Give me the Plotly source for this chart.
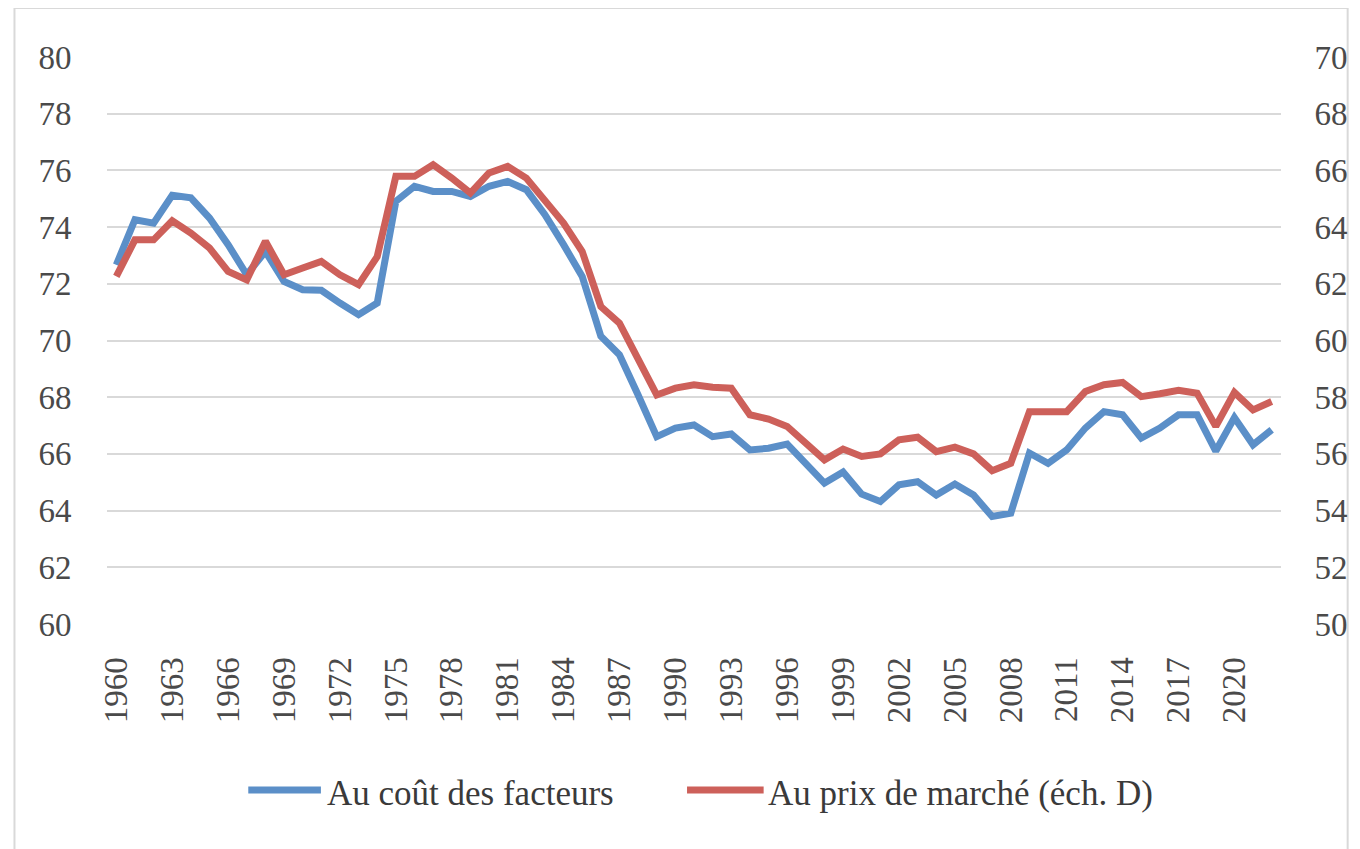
import plotly.graph_objects as go

years = list(range(1960, 2023))
cout_facteurs = [72.67, 74.26, 74.14, 75.12, 75.03, 74.32, 73.38, 72.32, 73.14, 72.08,
                 71.79, 71.77, 71.32, 70.91, 71.32, 74.91, 75.44, 75.26, 75.26, 75.08,
                 75.44, 75.61, 75.32, 74.44, 73.38, 72.26, 70.15, 69.50, 68.08, 66.61,
                 66.91, 67.02, 66.61, 66.70, 66.14, 66.20, 66.35, 65.67, 64.97, 65.36,
                 64.58, 64.32, 64.91, 65.02, 64.55, 64.94, 64.55, 63.79, 63.91, 66.03,
                 65.67, 66.14, 66.91, 67.49, 67.38, 66.56, 66.91, 67.38, 67.38, 66.10,
                 67.28, 66.32, 66.85]
prix_marche = [62.26, 63.55, 63.55, 64.22, 63.79, 63.26, 62.44, 62.14, 63.50, 62.32,
               62.56, 62.79, 62.32, 61.97, 62.96, 65.79, 65.79, 66.20, 65.73, 65.20,
               65.91, 66.14, 65.73, 64.97, 64.14, 63.14, 61.20, 60.61, 59.38, 58.08,
               58.32, 58.44, 58.35, 58.32, 57.38, 57.23, 56.97, 56.38, 55.79, 56.17,
               55.91, 56.00, 56.50, 56.59, 56.08, 56.24, 56.00, 55.41, 55.67, 57.49,
               57.49, 57.49, 58.20, 58.44, 58.52, 58.02, 58.12, 58.24, 58.14, 56.97,
               58.17, 57.55, 57.85]
tick_years = list(range(1960, 2021, 3))
left_ticks = list(range(60, 81, 2))
right_ticks = list(range(50, 71, 2))
names = ["Au coût des facteurs", "Au prix de marché (éch. D)"]

BLUE = "#5B8FC8"
RED = "#CD605A"
FONT = "Liberation Serif"
TXT = "#4A4A4A"

fig = go.Figure()
fig.add_trace(go.Scatter(x=years, y=cout_facteurs, mode="lines", name=names[0],
                         line=dict(color=BLUE, width=7), yaxis="y"))
fig.add_trace(go.Scatter(x=years, y=prix_marche, mode="lines", name=names[1],
                         line=dict(color=RED, width=7), yaxis="y2"))

# page is rendered with an 8px body margin: figure origin at (8, 8)
OFF = 8
W, H = 1360 - OFF, 849 - OFF
L = 107 - OFF
R = W - (1287 - OFF)
T = 57 - OFF
B = H - (624 - OFF)
pw = W - L - R
ph = H - T - B

def px_x(p):
    return (p - OFF - L) / pw

def px_y(p):
    return (H - B - (p - OFF)) / ph

fig.update_layout(
    width=W, height=H,
    margin=dict(l=L, r=R, t=T, b=B),
    paper_bgcolor="white", plot_bgcolor="white",
    showlegend=False,
    font=dict(family=FONT, color=TXT, size=33),
    xaxis=dict(range=[1959.5, 2022.5], tickmode="array", tickvals=tick_years,
               ticktext=[str(y) for y in tick_years], tickangle=-90,
               showgrid=False, zeroline=False, showline=False,
               ticks="outside", ticklen=19, tickcolor="rgba(0,0,0,0)",
               tickfont=dict(family=FONT, size=33, color=TXT)),
    yaxis=dict(range=[60, 80], tickvals=left_ticks, showgrid=True,
               gridcolor="#D9D9D9", gridwidth=2, zeroline=False, showline=False,
               ticks="outside", ticklen=28, tickcolor="rgba(0,0,0,0)",
               tickfont=dict(family=FONT, size=33, color=TXT)),
    yaxis2=dict(range=[50, 70], tickvals=right_ticks, overlaying="y", side="right",
                showgrid=False, zeroline=False, showline=False,
                ticks="outside", ticklen=26, tickcolor="rgba(0,0,0,0)",
                tickfont=dict(family=FONT, size=33, color=TXT)),
)

shapes = [
    dict(type="rect", xref="paper", yref="paper",
         x0=px_x(14), x1=px_x(1354), y0=px_y(880), y1=px_y(8),
         line=dict(color="#D9D9D9", width=2), fillcolor="rgba(0,0,0,0)", layer="below"),
    dict(type="line", xref="paper", yref="paper",
         x0=px_x(249), x1=px_x(322), y0=px_y(790), y1=px_y(790),
         line=dict(color=BLUE, width=7)),
    dict(type="line", xref="paper", yref="paper",
         x0=px_x(690), x1=px_x(767), y0=px_y(790), y1=px_y(790),
         line=dict(color=RED, width=7)),
]
annotations = [
    dict(text=names[0], xref="paper", yref="paper", x=px_x(326), y=px_y(793),
         xanchor="left", yanchor="middle", showarrow=False,
         font=dict(family=FONT, size=35, color="#3A3A3A")),
    dict(text=names[1], xref="paper", yref="paper", x=px_x(769), y=px_y(793),
         xanchor="left", yanchor="middle", showarrow=False,
         font=dict(family=FONT, size=35, color="#3A3A3A")),
]
fig.update_layout(shapes=shapes, annotations=annotations)

fig.write_html("out.html")
